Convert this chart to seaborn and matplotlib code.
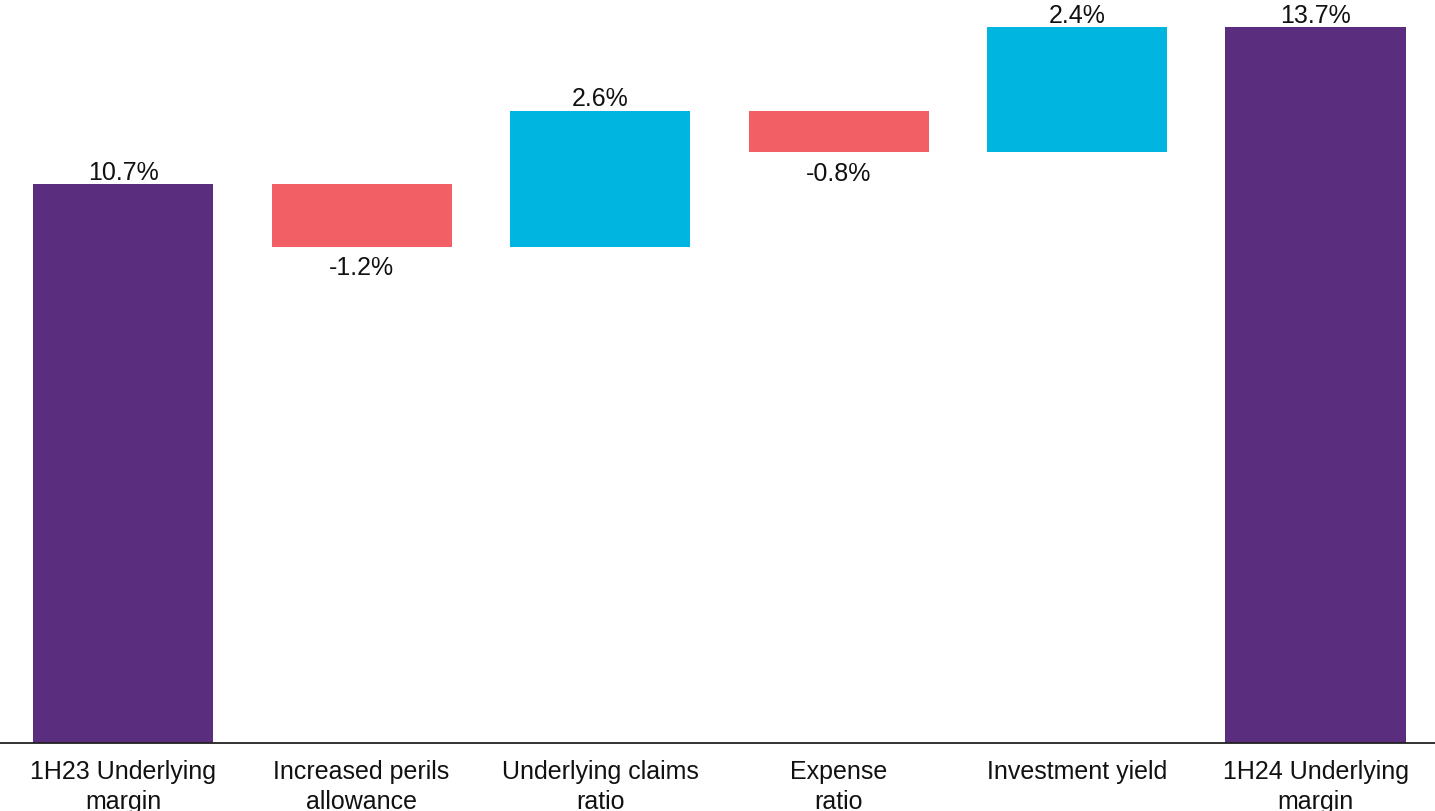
import numpy as np
import pandas as pd
import matplotlib
matplotlib.use("Agg")
import matplotlib.pyplot as plt
import seaborn as sns

categories = ["1H23 Underlying\nmargin", "Increased perils\nallowance", "Underlying claims\nratio",
              "Expense\nratio", "Investment yield", "1H24 Underlying\nmargin"]
values = [10.7, -1.2, 2.6, -0.8, 2.4, 13.7]
labels = ["10.7%", "-1.2%", "2.6%", "-0.8%", "2.4%", "13.7%"]
kinds = ["total", "delta", "delta", "delta", "delta", "total"]

PURPLE = "#5A2D7E"
RED = "#F26066"
CYAN = "#00B6E0"

sns.set_theme(style="white")
plt.rcParams["font.family"] = ["Liberation Sans", "DejaVu Sans"]

# waterfall geometry
bottoms, heights, colors = [], [], []
running = 0.0
for v, k in zip(values, kinds):
    if k == "total":
        bottoms.append(0.0)
        heights.append(v)
        colors.append(PURPLE)
        running = v
    else:
        if v >= 0:
            bottoms.append(running)
        else:
            bottoms.append(running + v)
        heights.append(abs(v))
        colors.append(CYAN if v >= 0 else RED)
        running += v

df = pd.DataFrame({"cat": categories, "h": heights})

fig = plt.figure(figsize=(14.35, 8.11), dpi=100)
ax = fig.add_axes([0.0, 68 / 811, 1.0, 743 / 811])

sns.barplot(data=df, x="cat", y="h", order=categories, bottom=np.array(bottoms),
            width=0.755, color=PURPLE, ax=ax, errorbar=None, linewidth=0)
for p, c in zip(ax.patches, colors):
    p.set_facecolor(c)
    p.set_edgecolor("none")

FS = 18
for i, (v, k, lab) in enumerate(zip(values, kinds, labels)):
    top = bottoms[i] + heights[i]
    if v >= 0:
        ax.annotate(lab, (i, top), xytext=(0, 3), textcoords="offset points",
                    ha="center", va="baseline", fontsize=FS, color="#111111")
    else:
        ax.annotate(lab, (i, bottoms[i]), xytext=(0, -7), textcoords="offset points",
                    ha="center", va="top", fontsize=FS, color="#111111")

ax.set_xlim(-0.516, 5.501)
ax.set_ylim(0, 743 / 52.26)
ax.set_xlabel("")
ax.set_ylabel("")
ax.set_yticks([])
ax.tick_params(axis="x", length=0, pad=12.5, labelsize=FS, labelcolor="#111111")
for t in ax.get_xticklabels():
    t.set_linespacing(1.28)
for s in ["top", "right", "left"]:
    ax.spines[s].set_visible(False)
ax.spines["bottom"].set_color("#222222")
ax.spines["bottom"].set_linewidth(1.3)

fig.savefig("out.png", dpi=100)
